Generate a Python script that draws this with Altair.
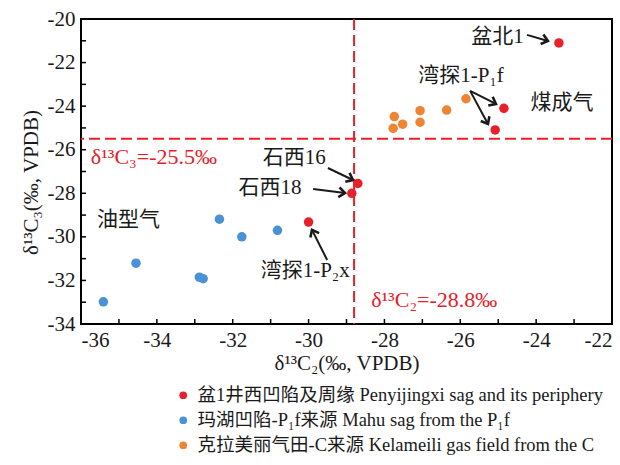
import altair as alt
import numpy as np
import pandas as pd

# δ13C2 / δ13C3 of natural gas samples (‰, VPDB)
# 盆1井西凹陷及周缘
peny_c2 = [-23.4, -24.85, -25.08, -28.7, -28.86, -30.0]
peny_c3 = [-21.1, -24.1, -25.09, -27.55, -28.0, -29.32]
# 玛湖凹陷，P1f 来源
mahu_c2 = [-35.41, -34.55, -32.88, -32.78, -32.35, -31.76, -30.82]
mahu_c3 = [-32.98, -31.21, -31.85, -31.92, -29.19, -30.0, -29.7]
# 克拉美丽气田，C 来源
klml_c2 = [-27.74, -27.77, -27.52, -27.06, -27.06, -26.36, -25.85]
klml_c3 = [-24.48, -25.02, -24.83, -24.21, -24.74, -24.18, -23.66]

groups = [
    "盆1井西凹陷及周缘 Penyijingxi sag and its periphery",
    "玛湖凹陷-P₁f来源 Mahu sag from the P₁f",
    "克拉美丽气田-C来源  Kelameili gas field from the C",
]
colors = ["#E8202A", "#4A92D6", "#EF8433"]

c2_cut = -28.8
c3_cut = -25.5

x_range = [-36, -22]
y_range = [-34, -20]
x_labels = list(range(-36, -21, 2))
y_labels = list(range(-34, -19, 2))
x_minor = list(range(-35, -22))
y_minor = list(range(-33, -20))

# annotation labels (data coordinates)
lab_text = ["盆北1", "湾探1-P₁f", "煤成气", "石西16", "石西18", "油型气", "湾探1-P₂x"]
lab_x = [-24.33, -25.98, -23.32, -30.38, -31.02, -34.75, -30.09]
lab_y = [-20.83, -22.62, -23.85, -26.38, -27.76, -29.22, -31.57]
lab_align = ["right", "center", "center", "center", "center", "center", "center"]

# arrows: start -> tip
arr_x1 = [-24.24, -25.74, -25.74, -29.49, -29.88, -29.51]
arr_y1 = [-20.73, -23.30, -23.30, -26.84, -27.80, -31.06]
arr_x2 = [-23.69, -25.06, -25.27, -28.83, -29.04, -29.91]
arr_y2 = [-21.01, -23.90, -24.82, -27.39, -27.99, -29.68]

# threshold captions
cut_text = ["δ¹³C₃=-25.5‰", "δ¹³C₂=-28.8‰"]
cut_x = [-35.74, -28.35]
cut_y = [-26.33, -32.90]

W, H = 531, 305
FONT = "Liberation Serif, Noto Sans CJK SC"
RED = "#E8202A"
INK = "#1a1a1a"

pts = pd.DataFrame({
    "c2": peny_c2 + mahu_c2 + klml_c2,
    "c3": peny_c3 + mahu_c3 + klml_c3,
    "group": [groups[0]] * len(peny_c2) + [groups[1]] * len(mahu_c2) + [groups[2]] * len(klml_c2),
})

# arrowhead orientation in screen space
px_x = W / (x_range[1] - x_range[0])
px_y = H / (y_range[1] - y_range[0])
dx = (np.array(arr_x2) - np.array(arr_x1)) * px_x
dy = -(np.array(arr_y2) - np.array(arr_y1)) * px_y
arrows = pd.DataFrame({
    "x1": arr_x1, "y1": arr_y1, "x2": arr_x2, "y2": arr_y2,
    "ang": np.degrees(np.arctan2(dy, dx)) % 360,
})

labels = pd.DataFrame({"t": lab_text, "x": lab_x, "y": lab_y, "a": lab_align})
cuts = pd.DataFrame({"t": cut_text, "x": cut_x, "y": cut_y})

xs = alt.Scale(domain=x_range, nice=False, zero=False)
ys = alt.Scale(domain=y_range, nice=False, zero=False)

x_axis = alt.Axis(values=x_labels, title="δ¹³C₂(‰, VPDB)", ticks=False, domain=False, grid=False,
                  labelExpr="'' + datum.value",
                  labelFont=FONT, labelFontSize=21, labelColor=INK, labelPadding=5,
                  titleFont=FONT, titleFontSize=21, titleFontWeight="normal", titleColor=INK,
                  titlePadding=2)
y_axis = alt.Axis(values=y_labels, title="δ¹³C₃(‰, VPDB)", ticks=False, domain=False, grid=False,
                  labelExpr="'' + datum.value",
                  labelFont=FONT, labelFontSize=21, labelColor=INK, labelPadding=6,
                  titleFont=FONT, titleFontSize=21, titleFontWeight="normal", titleColor=INK,
                  titlePadding=6, titleY=163)

points = alt.Chart(pts).mark_circle(size=90, opacity=1).encode(
    x=alt.X("c2:Q", scale=xs, axis=x_axis),
    y=alt.Y("c3:Q", scale=ys, axis=y_axis),
    color=alt.Color("group:N", scale=alt.Scale(domain=groups, range=colors),
                    legend=alt.Legend(orient="none", legendX=93, legendY=367, title=None,
                                      labelFont=FONT, labelFontSize=18.5, labelColor=INK,
                                      labelLimit=700, symbolType="circle", symbolSize=60,
                                      symbolStrokeWidth=0, rowPadding=6, padding=0,
                                      labelOffset=5)),
)

vline = alt.Chart(pd.DataFrame({"v": [c2_cut]})).mark_rule(
    color=RED, strokeWidth=2, strokeDash=[11, 5]).encode(x=alt.X("v:Q", scale=xs))
hline = alt.Chart(pd.DataFrame({"v": [c3_cut]})).mark_rule(
    color=RED, strokeWidth=2, strokeDash=[11, 5]).encode(y=alt.Y("v:Q", scale=ys))

# inward ticks on bottom and left edges
xticks = alt.Chart(pd.DataFrame({"v": x_minor})).mark_rule(color="black", strokeWidth=1.5).encode(
    x=alt.X("v:Q", scale=xs), y=alt.value(H), y2=alt.value(H - 5))
yticks = alt.Chart(pd.DataFrame({"v": y_minor})).mark_rule(color="black", strokeWidth=1.5).encode(
    y=alt.Y("v:Q", scale=ys), x=alt.value(0), x2=alt.value(5))

shafts = alt.Chart(arrows).mark_rule(color=INK, strokeWidth=2).encode(
    x=alt.X("x1:Q", scale=xs), y=alt.Y("y1:Q", scale=ys), x2="x2:Q", y2="y2:Q")
heads = alt.Chart(arrows).mark_point(
    shape="M-1,-0.8L0,0L-1,0.8", size=150, filled=False, stroke=INK, strokeWidth=2.6,
    opacity=1).encode(
    x=alt.X("x2:Q", scale=xs), y=alt.Y("y2:Q", scale=ys), angle=alt.Angle("ang:Q", scale=None))

label_layers = []
for a in ["right", "center"]:
    label_layers.append(
        alt.Chart(labels[labels["a"] == a]).mark_text(
            font=FONT, fontSize=21, color=INK, baseline="middle", align=a).encode(
            x=alt.X("x:Q", scale=xs), y=alt.Y("y:Q", scale=ys), text="t:N")
    )

cut_labels = alt.Chart(cuts).mark_text(font=FONT, fontSize=22, color=RED, align="left",
                                       baseline="middle").encode(
    x=alt.X("x:Q", scale=xs), y=alt.Y("y:Q", scale=ys), text="t:N")

chart = alt.layer(vline, hline, xticks, yticks, shafts, heads, points, *label_layers,
                  cut_labels).properties(
    width=W, height=H,
    background="white",
    autosize=alt.AutoSizeParams(type="none"),
    padding={"left": 81, "top": 19, "right": 8, "bottom": 141},
).configure_view(stroke="black", strokeWidth=2)

chart.save("out.html", embed_options={"renderer": "svg", "actions": False})
